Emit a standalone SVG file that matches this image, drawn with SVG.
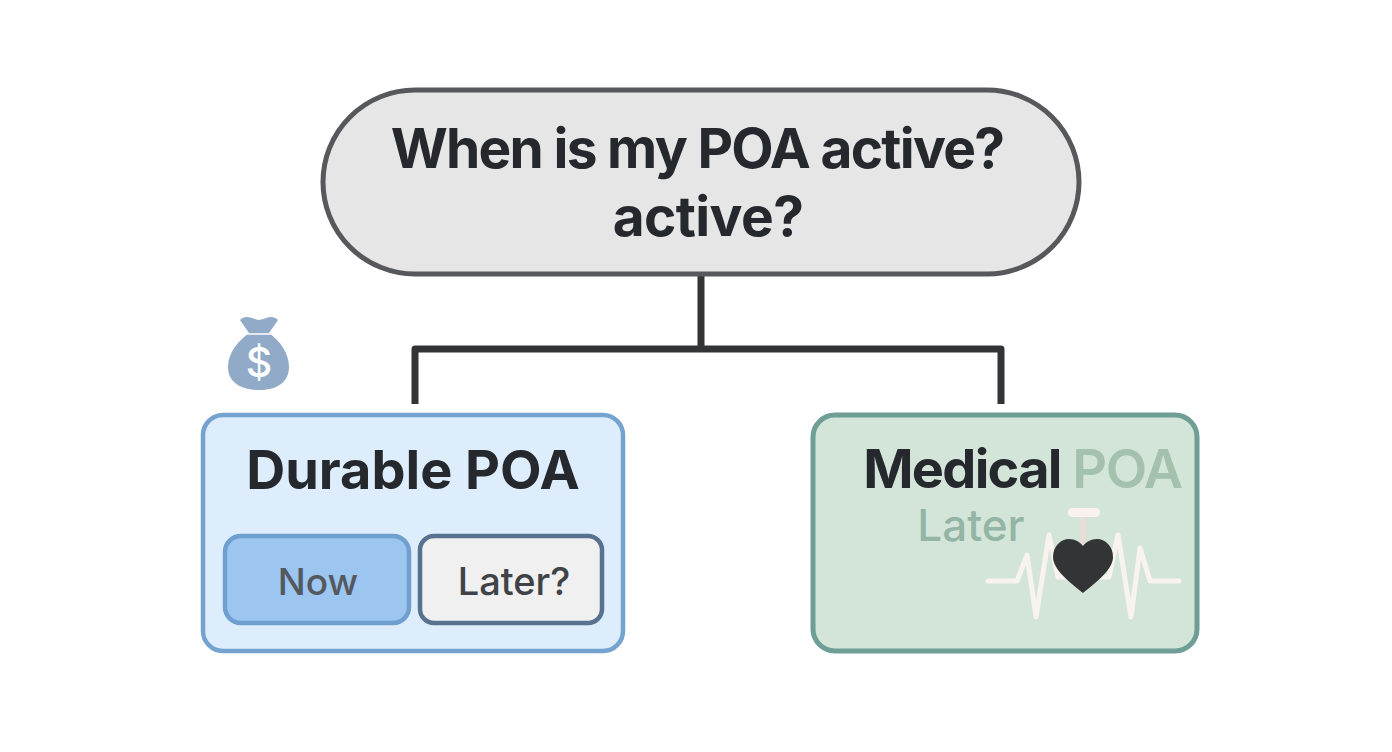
<svg xmlns="http://www.w3.org/2000/svg" width="1392" height="752" viewBox="0 0 1392 752">
<style>
text{font-family:Inter,"Liberation Sans",sans-serif;text-anchor:middle}
.h{font-weight:700;fill:#25292e}
.c{fill:none;stroke:#333436;stroke-width:7;stroke-linejoin:round}
</style>
<rect width="1392" height="752" fill="#fff"/>
<g id="connectors">
<path class="c" d="M701 274V349"/>
<path class="c" d="M415 404V349H1001V404"/>
</g>
<g id="question">
<rect x="323" y="90" width="756" height="184" rx="92" fill="#e6e6e7" stroke="#57585b" stroke-width="5"/>
<text class="h" x="697" y="168" font-size="55" letter-spacing="-1.7">When is my POA active?</text>
<text class="h" x="708" y="236" font-size="55" letter-spacing="-0.6">active?</text>
</g>
<g id="money-icon">
<path d="M240 320C246 314 252 319 259 320C266 319 272 314 278 320L269 333C280 341 289 353 289 367C289 383 276 390 259 390C242 390 228 383 228 367C228 353 238 341 249 333Z" fill="#90aac8"/>
<path d="M247 334H271" stroke="#fff" stroke-width="1.5" fill="none"/>
<text x="259" y="377" font-size="41" font-weight="500" fill="#fff">$</text>
</g>
<g id="durable">
<rect x="203" y="415" width="420" height="236" rx="20" fill="#deedfb" stroke="#75a3cf" stroke-width="4.5"/>
<text class="h" x="413" y="489" font-size="54">Durable POA</text>
</g>
<g id="now">
<rect x="225" y="536" width="184" height="87" rx="16" fill="#9cc5f0" stroke="#6f9fcf" stroke-width="4.5"/>
<text x="318" y="595" font-size="37" font-weight="500" fill="#54595f">Now</text>
</g>
<g id="later-q">
<rect x="420" y="536" width="182" height="87" rx="14" fill="#f0f0f1" stroke="#57718f" stroke-width="4.5"/>
<text x="514" y="595" font-size="38" font-weight="500" fill="#3f4247">Later?</text>
</g>
<g id="medical">
<rect x="813" y="415" width="384" height="236" rx="22" fill="#d3e5d9" stroke="#6f9e96" stroke-width="5"/>
<text class="h" x="962" y="488" font-size="54" letter-spacing="-1.7">Medical</text>
<text x="1127" y="488" font-size="54" font-weight="600" letter-spacing="-1.3" fill="#a3c1ad">POA</text>
<text x="971" y="541" font-size="44" font-weight="500" fill="#94b5a5">Later</text>
</g>
<g id="heart-icon">
<path d="M988 581H1017L1027 555L1036 617L1049 535L1058 577H1109L1118 535L1131 617L1140 548L1150 581H1179" fill="none" stroke="#f8f3ee" stroke-width="5" stroke-linecap="round" stroke-linejoin="round"/>
<path d="M1083 515V545" stroke="#eadcd8" stroke-width="6"/>
<rect x="1068" y="508" width="32" height="9" rx="4.5" fill="#f8f3ee"/>
<path d="M1083 593C1068 581 1053 569 1053 557C1053 546 1061 539 1069 539C1075 539 1080 542 1083 546C1086 542 1091 539 1097 539C1105 539 1113 546 1113 557C1113 569 1098 581 1083 593Z" fill="#333436"/>
</g>
</svg>
